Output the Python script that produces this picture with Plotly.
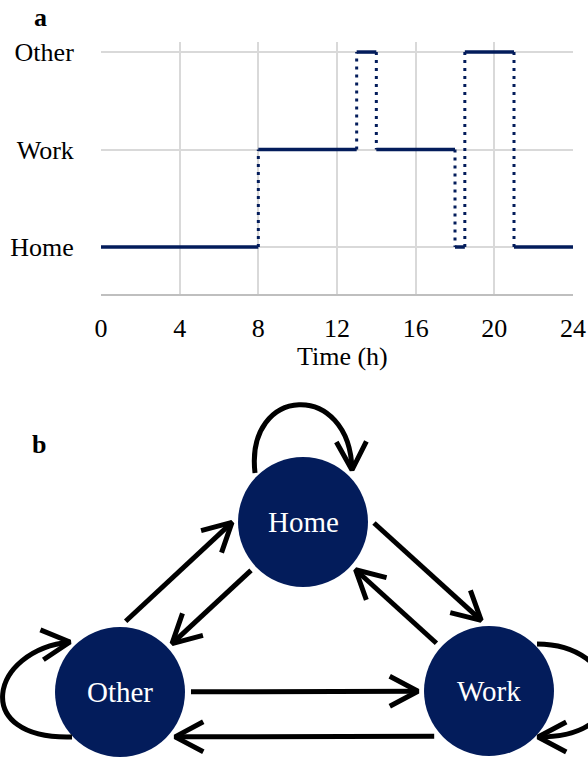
import math
import plotly.graph_objects as go

# ---------------- Panel a data ----------------
change_times = [0, 8, 13, 14, 18, 18.5, 21, 24]          # hours where state changes
states = ["Home", "Work", "Other", "Work", "Home", "Other", "Home"]  # state in each interval
state_order = ["Home", "Work", "Other"]
x_ticks = [0, 4, 8, 12, 16, 20, 24]

# ---------------- Panel b data ----------------
node_names = ["Home", "Other", "Work"]
node_x = [303, 120, 489]
node_y = [522, 692, 691]
edge_src = ["Home", "Work", "Other", "Home", "Other", "Work"]
edge_dst = ["Work", "Home", "Home", "Other", "Work", "Other"]
edge_offset = [47, 0, 48, 0, 0, 45]
# self loops: (start, ctrl1, ctrl2, end) relative to node centre
loop_nodes = ["Home", "Other", "Work"]
loop_ctrl = [
    [(-48, -49), (-58, -137), (47, -142), (49, -52)],
    [(-48, 45), (-150, 48), (-130, -42), (-50, -50)],
    [(48, -47), (131, -47), (151, 46), (49, 46)],
]

NAVY = "#031C5B"
FONT = "Liberation Serif, Times New Roman, serif"
W, H = 588, 757
R = 65
GAP = 71
HEAD_LEN = 32
HEAD_ANG = math.radians(28)
LW = 5

fig = go.Figure()

# ---- panel a traces ----
hx, hy = [], []
for i, s in enumerate(states):
    hx += [change_times[i], change_times[i + 1], None]
    hy += [s, s, None]
vx, vy = [], []
for i in range(1, len(states)):
    t = change_times[i]
    vx += [t, t, None]
    vy += [states[i - 1], states[i], None]

fig.add_trace(go.Scatter(x=vx, y=vy, mode="lines", xaxis="x", yaxis="y",
                         line=dict(color=NAVY, width=3, dash="3px,5px"),
                         hoverinfo="skip", showlegend=False))
fig.add_trace(go.Scatter(x=hx, y=hy, mode="lines", xaxis="x", yaxis="y",
                         line=dict(color=NAVY, width=3.5),
                         hoverinfo="skip", showlegend=False))

# ---- panel b geometry ----
pos = {n: (x, y) for n, x, y in zip(node_names, node_x, node_y)}
cx = sum(node_x) / 3
cy = sum(node_y) / 3


def head(tip, dirx, diry):
    L = math.hypot(dirx, diry)
    ux, uy = dirx / L, diry / L
    pts = []
    for s in (1, -1):
        a = math.atan2(-uy, -ux) + s * HEAD_ANG
        pts.append((tip[0] + HEAD_LEN * math.cos(a), tip[1] + HEAD_LEN * math.sin(a)))
    return [pts[0][0], tip[0], pts[1][0], None], [pts[0][1], tip[1], pts[1][1], None]


sx, sy, ax_, ay_ = [], [], [], []
for s, d, off in zip(edge_src, edge_dst, edge_offset):
    x0, y0 = pos[s]
    x1, y1 = pos[d]
    L = math.hypot(x1 - x0, y1 - y0)
    ux, uy = (x1 - x0) / L, (y1 - y0) / L
    nx, ny = -uy, ux
    mx, my = (x0 + x1) / 2, (y0 + y1) / 2
    if nx * (mx - cx) + ny * (my - cy) < 0:
        nx, ny = -nx, -ny
    along = math.sqrt(GAP ** 2 - off ** 2)
    p0 = (x0 + ux * along + nx * off, y0 + uy * along + ny * off)
    p1 = (x1 - ux * along + nx * off, y1 - uy * along + ny * off)
    sx += [p0[0], p1[0], None]
    sy += [p0[1], p1[1], None]
    hxs, hys = head(p1, ux, uy)
    ax_ += hxs
    ay_ += hys

shapes = []
for n in node_names:
    x, y = pos[n]
    shapes.append(dict(type="circle", xref="x2", yref="y2", x0=x - R, x1=x + R,
                       y0=y - R, y1=y + R, fillcolor=NAVY, line=dict(width=0),
                       layer="below"))

for n, ctrl in zip(loop_nodes, loop_ctrl):
    x, y = pos[n]
    p = [(x + dx, y + dy) for dx, dy in ctrl]
    path = "M {:.1f},{:.1f} C {:.1f},{:.1f} {:.1f},{:.1f} {:.1f},{:.1f}".format(
        p[0][0], p[0][1], p[1][0], p[1][1], p[2][0], p[2][1], p[3][0], p[3][1])
    shapes.append(dict(type="path", xref="x2", yref="y2", path=path,
                       line=dict(color="black", width=LW), layer="above"))
    hxs, hys = head(p[3], p[3][0] - p[2][0], p[3][1] - p[2][1])
    ax_ += hxs
    ay_ += hys

fig.add_trace(go.Scatter(x=sx, y=sy, mode="lines", xaxis="x2", yaxis="y2",
                         line=dict(color="black", width=LW),
                         hoverinfo="skip", showlegend=False))
fig.add_trace(go.Scatter(x=ax_, y=ay_, mode="lines", xaxis="x2", yaxis="y2",
                         line=dict(color="black", width=LW),
                         hoverinfo="skip", showlegend=False))

annotations = []
for n in node_names:
    x, y = pos[n]
    annotations.append(dict(x=x, y=y, xref="x2", yref="y2", text=n, showarrow=False,
                            font=dict(family=FONT, size=29, color="white"),
                            xanchor="center", yanchor="middle"))
annotations.append(dict(x=40 / W, y=1 - 18 / H, xref="paper", yref="paper", text="<b>a</b>",
                        showarrow=False, font=dict(family=FONT, size=26, color="black"),
                        xanchor="center", yanchor="middle"))
annotations.append(dict(x=39 / W, y=1 - 444 / H, xref="paper", yref="paper", text="<b>b</b>",
                        showarrow=False, font=dict(family=FONT, size=26, color="black"),
                        xanchor="center", yanchor="middle"))
annotations.append(dict(x=342 / W, y=1 - 356 / H, xref="paper", yref="paper", text="Time (h)",
                        showarrow=False, font=dict(family=FONT, size=26, color="black"),
                        xanchor="center", yanchor="middle"))

fig.update_layout(
    width=W, height=H,
    margin=dict(l=0, r=0, t=0, b=0, pad=0, autoexpand=False),
    paper_bgcolor="white", plot_bgcolor="white",
    showlegend=False,
    font=dict(family=FONT, size=26, color="black"),
    xaxis=dict(domain=[101 / W, 573 / W], anchor="y", range=[0, 24], automargin=False,
               tickmode="array", tickvals=x_ticks, ticktext=[str(v) for v in x_ticks],
               showgrid=True, gridcolor="#d9d9d9", gridwidth=2,
               showline=True, linecolor="#bfbfbf", linewidth=2,
               zeroline=False, ticks="outside", ticklen=10, tickcolor="rgba(0,0,0,0)",
               tickfont=dict(family=FONT, size=26, color="black"), fixedrange=True),
    yaxis=dict(domain=[1 - 294 / H, 1 - 42 / H], anchor="x", type="category",
               categoryorder="array", categoryarray=state_order, automargin=False,
               range=[-0.482, 2.103],
               showgrid=True, gridcolor="#d9d9d9", gridwidth=2,
               showline=False, zeroline=False,
               ticks="outside", ticklen=21, tickcolor="rgba(0,0,0,0)",
               tickfont=dict(family=FONT, size=26, color="black"), fixedrange=True),
    xaxis2=dict(domain=[0, 1], anchor="y2", range=[0, W], visible=False, fixedrange=True,
                automargin=False),
    yaxis2=dict(domain=[0, 1 - 395 / H], anchor="x2", range=[H, 395], visible=False,
                fixedrange=True, automargin=False),
    shapes=shapes,
    annotations=annotations,
)

fig.write_html("out.html", config={"displayModeBar": False},
               post_script="document.body.style.margin='0px';document.body.style.overflow='hidden';")
